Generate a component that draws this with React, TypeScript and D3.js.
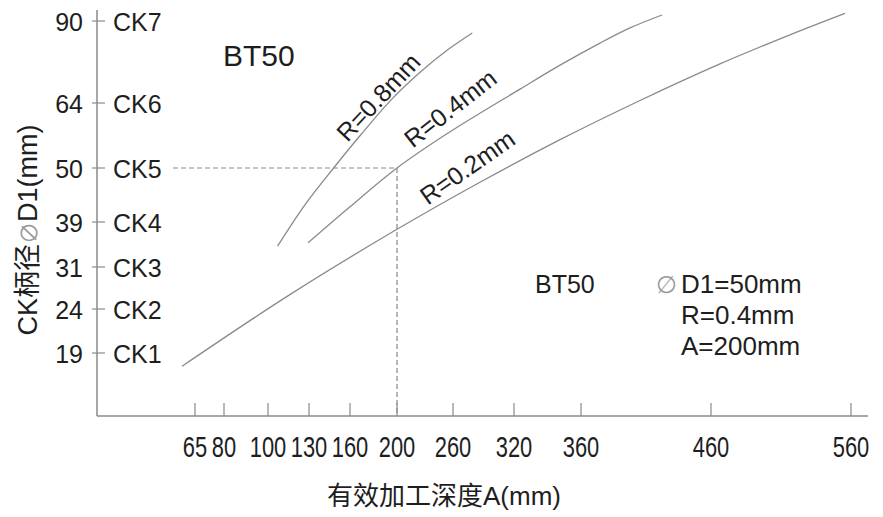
import React from 'react';
import * as d3 from 'd3';

// ---- data ----
const xTickValues = [65, 80, 100, 130, 160, 200, 260, 320, 360, 460, 560];
const yTickValues = [19, 24, 31, 39, 50, 64, 90];
const ckLabels = ['CK1', 'CK2', 'CK3', 'CK4', 'CK5', 'CK6', 'CK7'];

// R=0.2mm curve (A, D1)
const r02A = [58.3, 116, 200, 286.5, 347.5, 405.4, 466.4, 516.4, 555.7];
const r02D = [17.5, 26.4, 37.7, 47.1, 56.1, 64.8, 76.4, 85.6, 92.4];
// R=0.4mm curve
const r04A = [129.3, 160, 200, 256.8, 323.6, 347.5, 374.6, 397.7, 422.3];
const r04D = [35.3, 42.1, 50, 57.8, 68.4, 76.0, 83.0, 87.8, 91.9];
// R=0.8mm curve
const r08A = [107, 127, 148, 169, 194, 225, 254, 279];
const r08D = [34.7, 42.5, 50, 57.1, 64.6, 73.8, 80.8, 86.2];

const seriesNames = ['R=0.8mm', 'R=0.4mm', 'R=0.2mm'];
// label anchor in data units (A, D1) and rotation
const labelA = [184, 257, 274];
const labelD = [65.9, 62.9, 50.2];
const labelAngle = [-47, -38, -35];

const refA = 200;
const refD = 50;

// ---- layout (scale ranges) ----
const W = 883;
const H = 517;
const xRange = [195, 224, 268, 309, 350, 397, 453, 514, 581, 711, 851];
const yRange = [353, 309, 267, 222, 168, 103, 21];
const axisX = 97;
const axisY = 416;
const axisTop = 10;
const axisRight = 868;

const FONT = '"Liberation Sans", Arial, Helvetica, sans-serif';
const CJK = '"Liberation Sans", Arial, "Noto Sans CJK SC", sans-serif';
const TXT = '#1e1e1e';
const LINE = '#8a8a8a';

export default function App() {
  const x = d3.scaleLinear().domain(xTickValues).range(xRange);
  const y = d3.scaleLinear().domain(yTickValues).range(yRange);
  const line = d3
    .line<[number, number]>()
    .x((d) => x(d[0]))
    .y((d) => y(d[1]))
    .curve(d3.curveCatmullRom.alpha(0.5));

  const curves = [
    d3.zip(r08A, r08D) as [number, number][],
    d3.zip(r04A, r04D) as [number, number][],
    d3.zip(r02A, r02D) as [number, number][],
  ];

  return (
    <svg
      width={W}
      height={H}
      style={{ position: 'absolute', left: 0, top: 0, background: '#fff' }}
      fontFamily={FONT}
    >
      <rect width={W} height={H} fill="#fff" />
      {/* axes */}
      <line x1={axisX} y1={axisTop} x2={axisX} y2={axisY} stroke={LINE} strokeWidth={1.5} />
      <line x1={axisX} y1={axisY} x2={axisRight} y2={axisY} stroke={LINE} strokeWidth={1.5} />

      {/* y ticks */}
      {yTickValues.map((v, i) => (
        <g key={'y' + v}>
          <line x1={axisX - 5} x2={axisX + 8} y1={y(v)} y2={y(v)} stroke={LINE} strokeWidth={1.2} />
          <text x={83} y={y(v) + 10} textAnchor="end" fontSize={25} fill={TXT}>
            {v}
          </text>
          <text x={113} y={y(v) + 10} textAnchor="start" fontSize={25} fill={TXT}>
            {ckLabels[i]}
          </text>
        </g>
      ))}

      {/* x ticks */}
      {xTickValues.map((v) => (
        <g key={'x' + v}>
          <line x1={x(v)} x2={x(v)} y1={axisY - 13} y2={axisY} stroke={LINE} strokeWidth={1.2} />
          <text
            transform={`translate(${x(v)},${457}) scale(0.73,1)`}
            textAnchor="middle"
            fontSize={30}
            fill={TXT}
          >
            {v}
          </text>
        </g>
      ))}

      {/* reference dashed lines */}
      <path
        d={`M${173},${y(refD)}H${x(refA)}V${axisY}`}
        fill="none"
        stroke={LINE}
        strokeWidth={1.2}
        strokeDasharray="5,3"
      />

      {/* curves */}
      {curves.map((c, i) => (
        <path key={'c' + i} d={line(c) || ''} fill="none" stroke={LINE} strokeWidth={1.3} />
      ))}

      {/* curve labels */}
      {seriesNames.map((n, i) => (
        <text
          key={n}
          transform={`translate(${x(labelA[i])},${y(labelD[i])}) rotate(${labelAngle[i]})`}
          textAnchor="middle"
          dominantBaseline="central"
          fontSize={25}
          fill={TXT}
        >
          {n}
        </text>
      ))}

      {/* title BT50 */}
      <text x={223} y={66} fontSize={30} fill={TXT}>
        BT50
      </text>

      {/* annotation */}
      <text x={535} y={293} fontSize={25} fill={TXT}>
        BT50
      </text>
      <text x={656} y={293} fontSize={24} fill="#9a9a9a">
        ∅
      </text>
      <text x={681} y={293} fontSize={26} fill={TXT}>
        D1=50mm
      </text>
      <text x={681} y={324} fontSize={26} fill={TXT}>
        R=0.4mm
      </text>
      <text x={681} y={355} fontSize={26} fill={TXT}>
        A=200mm
      </text>

      {/* axis titles */}
      <text x={444} y={505} textAnchor="middle" fontSize={26} fontFamily={CJK} fill={TXT}>
        有效加工深度A(mm)
      </text>
      <text
        transform={`translate(${37},${230}) rotate(-90)`}
        textAnchor="middle"
        fontSize={27}
        fontFamily={CJK}
        fill={TXT}
      >
        CK柄径<tspan fill="#9a9a9a" fontSize={22}>∅</tspan>D1(mm)
      </text>
    </svg>
  );
}
